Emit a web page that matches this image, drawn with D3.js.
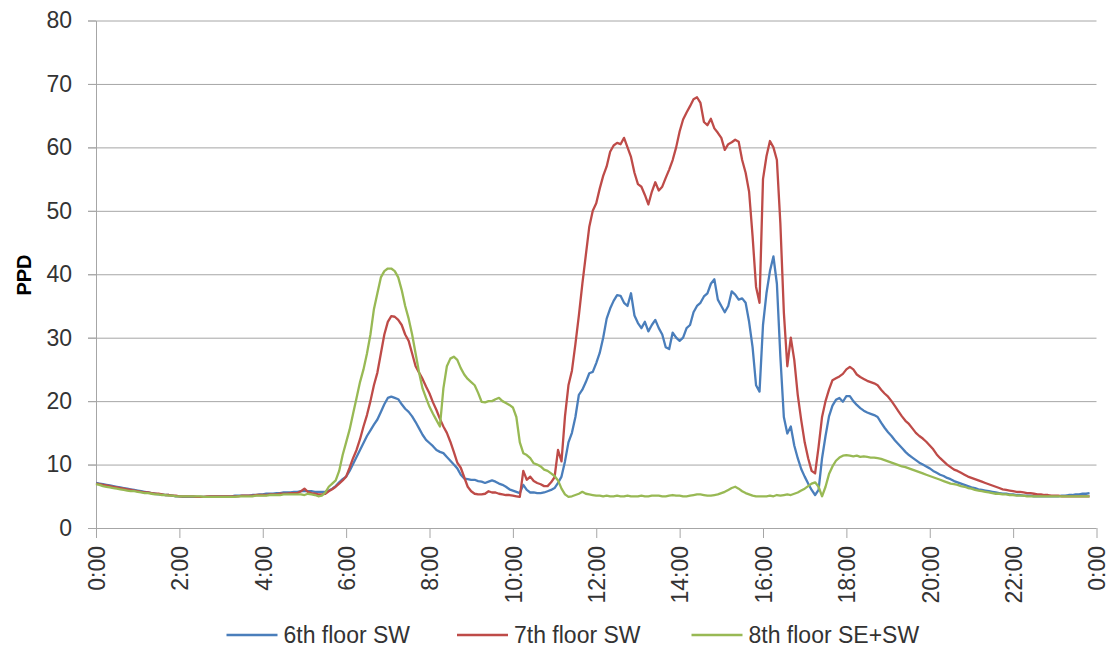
<!DOCTYPE html>
<html><head><meta charset="utf-8">
<script src="https://cdn.jsdelivr.net/npm/d3@7/dist/d3.min.js"></script>
<style>
body{margin:0;background:#fff}
text{font-family:"Liberation Sans",Arial,sans-serif}
</style>
</head><body>
<svg id="chart" width="1111" height="647"></svg>
<script>
// ---- data (5-minute readings, 0:00 .. 23:50) ----
const stepMinutes = 5;
const seriesNames = ["6th floor SW", "7th floor SW", "8th floor SE+SW"];
const seriesColors = ["#4a7ebb", "#be4b48", "#98b954"];
const yTicks = [0, 10, 20, 30, 40, 50, 60, 70, 80];
const xTickMinutes = [0, 120, 240, 360, 480, 600, 720, 840, 960, 1080, 1200, 1320, 1440];
const xTickLabels = ["0:00","2:00","4:00","6:00","8:00","10:00","12:00","14:00","16:00","18:00","20:00","22:00","0:00"];

const floor6 = [
 7.1,7.0,6.9,6.8,6.7,6.6,6.5,6.4,6.3,6.2,6.1,6.0,
 5.9,5.8,5.7,5.6,5.5,5.4,5.3,5.3,5.2,5.2,5.1,5.0,
 5.0,4.9,4.9,4.9,4.9,4.9,4.9,4.9,4.9,5.0,5.0,5.0,
 5.0,5.0,5.0,5.0,5.1,5.1,5.1,5.1,5.1,5.2,5.2,5.3,
 5.3,5.4,5.4,5.4,5.5,5.5,5.6,5.6,5.6,5.7,5.7,5.8,
 5.8,5.8,5.8,5.7,5.7,5.7,5.7,5.9,6.2,6.6,7.2,7.7,
 8.1,9.0,10.1,11.2,12.3,13.4,14.5,15.4,16.3,17.1,18.3,19.5,
 20.5,20.7,20.5,20.3,19.5,18.8,18.3,17.6,16.7,15.7,14.7,13.9,
 13.4,12.9,12.3,12.0,11.8,11.2,10.6,10.0,9.4,8.4,7.8,7.7,
 7.6,7.6,7.4,7.3,7.1,7.3,7.5,7.3,7.0,6.8,6.5,6.1,
 5.9,5.7,5.5,6.8,6.0,5.6,5.6,5.5,5.5,5.6,5.8,6.0,
 6.3,7.1,8.1,10.5,13.5,15.0,17.5,21.0,21.8,23.0,24.4,24.6,
 26.0,27.6,30.0,33.0,34.6,35.8,36.7,36.6,35.5,35.0,37.0,33.5,
 32.3,31.5,32.5,31.0,32.0,32.8,31.5,30.5,28.5,28.2,30.8,30.0,
 29.5,30.0,31.5,32.0,34.0,35.0,35.5,36.5,37.0,38.5,39.2,36.0,
 35.0,34.0,35.0,37.3,36.8,36.0,36.2,35.5,32.5,28.5,22.5,21.5,
 32.0,37.0,40.5,42.8,38.5,27.0,17.5,14.9,16.0,13.0,11.0,9.3,
 8.1,7.0,6.0,5.2,6.0,11.0,14.5,17.6,19.3,20.2,20.5,19.9,
 20.8,20.8,20.0,19.4,18.9,18.5,18.2,18.0,17.8,17.5,16.6,15.8,
 15.1,14.5,13.8,13.2,12.6,12.0,11.5,11.1,10.7,10.3,10.0,9.7,
 9.4,9.0,8.7,8.4,8.2,7.9,7.7,7.4,7.2,7.0,6.8,6.6,
 6.4,6.3,6.1,6.0,5.9,5.8,5.7,5.6,5.5,5.4,5.4,5.3,
 5.3,5.2,5.2,5.1,5.1,5.1,5.0,5.0,5.0,5.0,5.0,5.0,
 5.0,5.0,5.1,5.1,5.2,5.2,5.3,5.3,5.4,5.4,5.5
];

const floor7 = [
 7.0,6.9,6.8,6.7,6.6,6.5,6.4,6.3,6.2,6.1,6.0,5.9,
 5.8,5.7,5.6,5.6,5.5,5.4,5.4,5.3,5.2,5.2,5.1,5.1,
 5.0,5.0,5.0,5.0,5.0,4.9,4.9,4.9,5.0,5.0,5.0,5.0,
 5.0,5.0,5.0,5.0,5.0,5.0,5.1,5.1,5.1,5.1,5.2,5.2,
 5.2,5.2,5.3,5.3,5.3,5.4,5.4,5.4,5.5,5.5,5.5,5.8,
 6.2,5.7,5.5,5.4,5.3,5.3,5.4,5.8,6.1,6.5,7.0,7.5,
 8.1,9.5,11.0,12.3,14.0,16.0,17.8,20.0,22.5,24.5,27.5,30.5,
 32.5,33.4,33.3,32.8,32.0,30.5,29.5,27.5,25.5,24.5,23.5,22.3,
 21.2,19.8,18.6,17.2,16.0,15.0,13.6,12.0,10.3,9.5,8.0,6.5,
 5.8,5.4,5.3,5.3,5.4,5.8,5.6,5.6,5.4,5.3,5.2,5.2,
 5.1,5.0,4.9,9.0,7.6,8.1,7.4,7.1,6.9,6.6,6.6,7.2,
 8.0,12.3,10.5,17.6,22.5,24.8,29.0,33.5,38.5,43.0,47.5,50.0,
 51.2,53.5,55.5,57.0,59.3,60.3,60.7,60.5,61.5,60.0,58.5,56.0,
 54.2,53.8,52.5,51.0,53.0,54.5,53.2,53.8,55.2,56.5,58.0,60.0,
 62.5,64.4,65.5,66.5,67.6,67.9,67.0,64.0,63.5,64.5,63.0,62.3,
 61.5,59.6,60.5,60.8,61.2,60.9,58.0,56.0,53.0,46.0,38.0,35.5,
 55.0,58.6,61.0,60.0,58.0,48.0,34.0,25.5,30.0,26.5,21.0,17.0,
 13.5,11.0,9.0,8.6,12.8,17.5,20.0,21.8,23.3,23.6,23.9,24.3,
 25.0,25.4,25.0,24.2,23.8,23.5,23.2,23.0,22.8,22.5,21.8,21.2,
 20.7,20.0,19.2,18.4,17.6,16.9,16.4,15.7,15.0,14.5,14.1,13.6,
 13.0,12.4,11.6,11.0,10.5,10.0,9.6,9.2,9.0,8.7,8.4,8.1,
 7.9,7.7,7.5,7.3,7.1,6.9,6.7,6.5,6.3,6.1,6.0,5.9,
 5.8,5.7,5.7,5.6,5.5,5.5,5.4,5.3,5.3,5.2,5.2,5.1,
 5.1,5.1,5.0,5.0,5.0,5.0,5.0,5.0,5.0,5.0,5.0
];

const floor8 = [
 6.9,6.8,6.6,6.5,6.4,6.3,6.2,6.1,6.0,5.9,5.8,5.8,
 5.7,5.6,5.5,5.5,5.4,5.3,5.3,5.2,5.2,5.1,5.1,5.0,
 5.0,5.0,5.0,5.0,5.0,5.0,5.0,4.9,4.9,4.9,4.9,4.9,
 4.9,4.9,4.9,4.9,4.9,5.0,5.0,5.0,5.0,5.0,5.1,5.1,
 5.1,5.1,5.2,5.2,5.2,5.2,5.3,5.3,5.3,5.3,5.3,5.3,
 5.2,5.4,5.3,5.2,5.0,5.1,5.6,6.5,7.0,7.5,9.0,11.5,
 13.5,15.5,18.0,20.5,23.0,25.0,27.5,30.5,34.5,37.0,39.5,40.5,
 40.9,40.9,40.5,39.5,37.5,35.0,33.0,30.5,27.5,24.5,22.0,20.5,
 19.1,18.0,17.0,16.0,22.0,25.5,26.7,27.0,26.5,25.2,24.2,23.5,
 23.0,22.5,21.3,19.9,19.8,20.0,20.0,20.3,20.5,20.0,19.7,19.4,
 19.0,17.5,13.5,11.8,11.5,11.0,10.2,10.0,9.7,9.2,9.0,8.6,
 8.2,7.5,6.2,5.3,4.9,5.0,5.2,5.4,5.7,5.4,5.3,5.2,
 5.1,5.1,5.0,5.1,5.0,5.0,5.1,5.0,5.0,5.1,5.0,5.0,
 5.0,5.1,5.0,5.0,5.1,5.1,5.1,5.0,5.0,5.1,5.2,5.1,
 5.1,5.0,5.0,5.1,5.2,5.3,5.3,5.2,5.1,5.1,5.2,5.3,
 5.5,5.7,6.0,6.3,6.5,6.2,5.8,5.5,5.3,5.1,5.0,5.0,
 5.0,5.0,5.1,5.0,5.2,5.1,5.2,5.3,5.2,5.4,5.6,5.9,
 6.2,6.6,7.0,7.2,6.5,5.0,6.5,8.5,9.7,10.6,11.1,11.4,
 11.5,11.4,11.3,11.4,11.2,11.3,11.2,11.1,11.1,11.0,10.9,10.7,
 10.5,10.3,10.1,9.9,9.7,9.6,9.4,9.2,9.0,8.8,8.6,8.4,
 8.2,8.0,7.8,7.6,7.4,7.2,7.0,6.9,6.8,6.6,6.5,6.3,
 6.2,6.0,5.9,5.8,5.7,5.6,5.5,5.4,5.4,5.3,5.3,5.2,
 5.2,5.1,5.1,5.1,5.0,5.0,5.0,5.0,5.0,5.0,5.0,5.0,
 5.0,5.0,5.0,5.0,5.0,5.0,5.0,5.0,5.0,5.0,5.0
];

const seriesValues = [floor6, floor7, floor8];

// ---- layout ----
const svg = d3.select("#chart");
const plotLeft = 96, plotRight = 1096.5, plotTop = 20.5, plotBottom = 528;
const x = d3.scaleLinear().domain([0, 1440]).range([plotLeft, plotRight]);
const y = d3.scaleLinear().domain([0, 80]).range([plotBottom, plotTop]);
const gridColor = "#a6a6a6", textColor = "#333";

// gridlines (with left tick stubs)
const grid = svg.append("g").attr("transform", `translate(${plotRight},0)`)
  .call(d3.axisLeft(y).tickValues(yTicks.filter(v => v > 0)).tickSize(plotRight - plotLeft + 8).tickFormat(""));
grid.select(".domain").remove();
grid.selectAll("line").attr("stroke", gridColor).attr("stroke-width", 1);

// y axis
const yAxis = svg.append("g").attr("transform", `translate(${plotLeft},0)`)
  .call(d3.axisLeft(y).tickValues(yTicks).tickSize(8).tickPadding(16).tickSizeOuter(0));
yAxis.select(".domain").attr("stroke", gridColor);
yAxis.selectAll("line").attr("stroke", gridColor);
yAxis.selectAll("text").attr("fill", textColor).style("font-size", "23px");

// x axis
const xAxis = svg.append("g").attr("transform", `translate(0,${plotBottom})`)
  .call(d3.axisBottom(x).tickValues(xTickMinutes).tickSize(10).tickSizeOuter(0)
    .tickFormat((d, i) => xTickLabels[i]));
xAxis.select(".domain").attr("stroke", gridColor).attr("d", `M${plotLeft - 8},0.5H${plotRight}`);
xAxis.selectAll("line").attr("stroke", gridColor);
xAxis.selectAll("text")
  .attr("fill", textColor).style("font-size", "23px")
  .attr("transform", "rotate(-90)")
  .attr("text-anchor", "end")
  .attr("x", -18).attr("y", 0).attr("dy", "0.36em");

// y title
svg.append("text").attr("transform", "translate(31,275) rotate(-90)")
  .attr("text-anchor", "middle").attr("fill", "#000")
  .style("font-size", "20px").style("font-weight", "bold").text("PPD");

// lines
const line = d3.line().x((d, i) => x(i * stepMinutes)).y(d => y(d));
seriesValues.forEach((vals, k) => {
  svg.append("path").datum(vals)
    .attr("fill", "none").attr("stroke", seriesColors[k])
    .attr("stroke-width", 2.3).attr("stroke-linejoin", "round")
    .attr("d", line);
});

// legend
const legendX = [226.5, 457, 691.5];
const legend = svg.append("g");
seriesNames.forEach((name, k) => {
  legend.append("line").attr("x1", legendX[k]).attr("x2", legendX[k] + 51)
    .attr("y1", 635).attr("y2", 635).attr("stroke", seriesColors[k]).attr("stroke-width", 2.3);
  legend.append("text").attr("x", legendX[k] + 57).attr("y", 635).attr("dy", "0.35em")
    .attr("fill", textColor).style("font-size", "23px").text(name);
});
</script>
</body></html>
